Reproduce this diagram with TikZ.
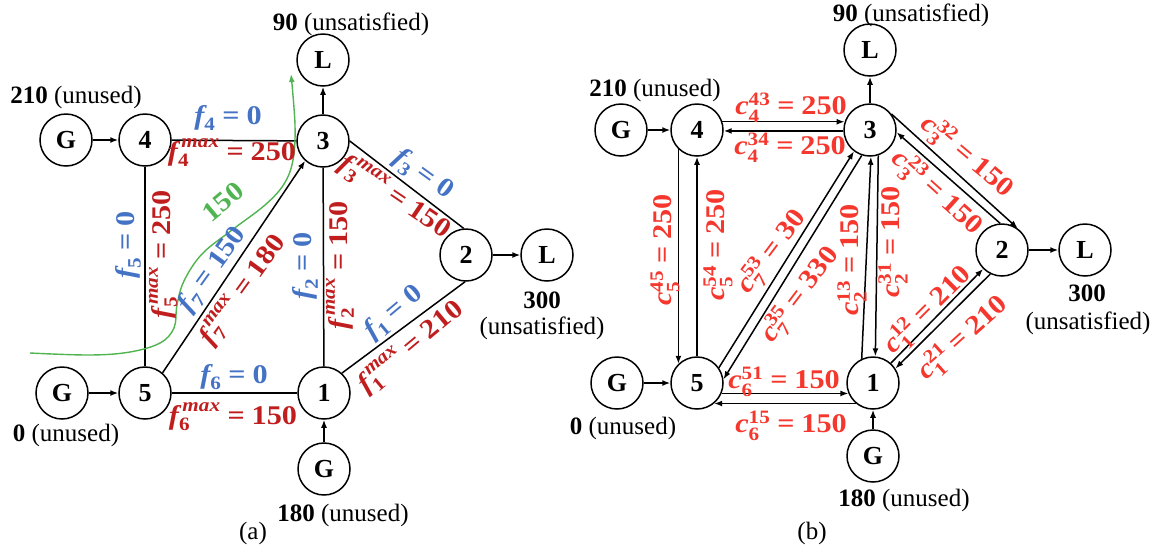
\documentclass[tikz,border=0pt]{standalone}
\usepackage{amsmath}
\usepackage{fontspec}
\setmainfont{Liberation Serif}
\newfontfamily\labfont{Liberation Serif}[FakeStretch=1.12]
\usetikzlibrary{arrows.meta,calc}
\definecolor{fblue}{RGB}{68,114,196}
\definecolor{fred}{RGB}{192,30,30}
\definecolor{cred}{RGB}{245,55,45}
\definecolor{fgreen}{RGB}{80,180,80}
% f_i^{max} = v
\newcommand\fm[2]{$\text{\labfont\bfseries\itshape f}_{\text{\labfont\bfseries #1}}^{\text{\labfont\bfseries\itshape\kern0.18em max}}\mathrel{\text{\labfont\bfseries =}}\text{\labfont\bfseries #2}$}
% f_i = v
\newcommand\fs[2]{$\text{\labfont\bfseries\itshape f}_{\text{\labfont\bfseries #1}}\mathrel{\text{\labfont\bfseries =}}\text{\labfont\bfseries #2}$}
% c_i^{jk} = v
\newcommand\cl[3]{$\text{\labfont\bfseries\itshape c}_{\text{\labfont\bfseries #1}}^{\text{\labfont\bfseries #2}}\mathrel{\text{\labfont\bfseries =}}\text{\labfont\bfseries #3}$}
\begin{document}
\begin{tikzpicture}[x=1pt,y=-1pt,
  bus/.style={circle,draw,line width=1.5pt,minimum size=52pt,inner sep=0pt,font=\fontsize{26}{30}\selectfont\bfseries},
  txt/.style={inner sep=0pt,font=\fontsize{25}{30}\selectfont},
  lab/.style={inner sep=0pt,font=\fontsize{27}{30}\selectfont},
  wire/.style={line width=1.5pt},
  arr/.style={line width=1.5pt,-{Latex[length=8pt,width=6pt]}},
]
\useasboundingbox (0,0) rectangle (1161,550);

% ---------------- panel (a) ----------------
\node[bus] (G4a) at (66,140) {G};
\node[bus] (n4a) at (145,140) {4};
\node[bus] (n3a) at (323,141) {3};
\node[bus] (L3a) at (323,60) {L};
\node[bus] (n2a) at (466,255) {2};
\node[bus] (L2a) at (547,255) {L};
\node[bus] (G5a) at (62,393) {G};
\node[bus] (n5a) at (145,393) {5};
\node[bus] (n1a) at (324,393) {1};
\node[bus] (G1a) at (324,469) {G};

\node[txt] (t210a) at (76,97) {\textbf{210} (unused)};
\node[txt] (t90a) at (351,24) {\textbf{90} (unsatisfied)};
\node[txt] (t300a) at (542,300) {\textbf{300}};
\node[txt] (tunsa) at (542,328) {(unsatisfied)};
\node[txt] (t0a) at (66,435) {\textbf{0} (unused)};
\node[txt] (t180a) at (343,515) {\textbf{180} (unused)};
\node[txt] (capa) at (253,533) {(a)};

\draw[arr] (G4a) -- (n4a);
\draw[arr] (G5a) -- (n5a);
\draw[arr] (G1a) -- (n1a);
\draw[arr] (n3a) -- (L3a);
\draw[arr] (n2a) -- (L2a);
\draw[wire] (n4a) -- (n3a);
\draw[wire] (n4a) -- (n5a);
\draw[wire] (n5a) -- (n1a);
\draw[wire] (n1a) -- (n3a);
\draw[wire] (n3a.0) -- (n2a.95);
\draw[wire] (n1a.48) -- (n2a.-92);
\draw[arr] (n5a.49) -- (n3a.-132);

\draw[fgreen,line width=1.4pt,-{Latex[length=8pt,width=6pt]}] plot[smooth,tension=0.6] coordinates {(30,353) (90,355) (130,352) (160,343) (174,328) (177,305) (184,281) (202,254) (232,230) (265,205) (284,184) (293,160) (295,125) (291,74)};
\node[lab,fgreen,rotate=40] (g150) at (223,202) {\labfont\bfseries 150};

\node[lab,fblue] (f4) at (228,118) {\fs{4}{0}};
\node[lab,fred] (f4m) at (232,153) {\fm{4}{250}};
\node[lab,fblue,rotate=90] (f5) at (128,245) {\fs{5}{0}};
\node[lab,fred,rotate=90] (f5m) at (163,254) {\fm{5}{250}};
\node[lab,fblue,rotate=54] (f7) at (213,270) {\fs{7}{150}};
\node[lab,fred,rotate=54] (f7m) at (243,290) {\fm{7}{180}};
\node[lab,fblue,rotate=90] (f2) at (305,266) {\fs{2}{0}};
\node[lab,fred,rotate=90] (f2m) at (340,265) {\fm{2}{150}};
\node[lab,fblue,rotate=-36] (f3) at (423,175) {\fs{3}{0}};
\node[lab,fred,rotate=-34] (f3m) at (395,197) {\fm{3}{150}};
\node[lab,fblue,rotate=40] (f1) at (394,313) {\fs{1}{0}};
\node[lab,fred,rotate=40] (f1m) at (411,347) {\fm{1}{210}};
\node[lab,fblue] (f6) at (234,377) {\fs{6}{0}};
\node[lab,fred] (f6m) at (233,417) {\fm{6}{150}};

% ---------------- panel (b) ----------------
\node[bus] (G4b) at (621,130) {G};
\node[bus] (n4b) at (697,130) {4};
\node[bus] (n3b) at (870,130) {3};
\node[bus] (L3b) at (870,50) {L};
\node[bus] (n2b) at (1002,250) {2};
\node[bus] (L2b) at (1085,250) {L};
\node[bus] (G5b) at (617,383) {G};
\node[bus] (n5b) at (697,383) {5};
\node[bus] (n1b) at (873,383) {1};
\node[bus] (G1b) at (873,456) {G};

\node[txt] (t210b) at (655,90) {\textbf{210} (unused)};
\node[txt] (t90b) at (911,15) {\textbf{90} (unsatisfied)};
\node[txt] (t300b) at (1087,293) {\textbf{300}};
\node[txt] (tunsb) at (1088,323) {(unsatisfied)};
\node[txt] (t0b) at (623,428) {\textbf{0} (unused)};
\node[txt] (t180b) at (904,500) {\textbf{180} (unused)};
\node[txt] (capb) at (812,533) {(b)};

\draw[arr] (G4b) -- (n4b);
\draw[arr] (G5b) -- (n5b);
\draw[arr] (G1b) -- (n1b);
\draw[arr] (n3b) -- (L3b);
\draw[arr] (n2b) -- (L2b);

\draw[arr] (n4b.18) -- (n3b.162);
\draw[arr] (n3b.-178) -- (n4b.-2);
\draw[arr] (n4b.-134) -- (n5b.134);
\draw[arr] (n5b.90) -- (n4b.-90);
\draw[arr] (n5b.35) -- (n3b.-127);
\draw[arr] (n3b.-108) -- (n5b.8);
\draw[arr] (n1b.115) -- (n3b.-88);
\draw[arr] (n3b.-72) -- (n1b.85);
\draw[arr] (n3b.37) -- (n2b.54);
\draw[arr] (n2b.94) -- (n3b.-5);
\draw[arr] (n1b.48) -- (n2b.-135);
\draw[arr] (n2b.-116) -- (n1b.33);
\draw[arr] (n5b.-23) -- (n1b.-157);
\draw[arr] (n1b.-130) -- (n5b.-50);

\node[lab,cred] (c43) at (791,108) {\cl{4}{43}{250}};
\node[lab,cred] (c34) at (790,148) {\cl{4}{34}{250}};
\node[lab,cred,rotate=90] (c45) at (665,250) {\cl{5}{45}{250}};
\node[lab,cred,rotate=90] (c54) at (718,245) {\cl{5}{54}{250}};
\node[lab,cred,rotate=53] (c53) at (772,252) {\cl{7}{53}{30}};
\node[lab,cred,rotate=53] (c35) at (800,295) {\cl{7}{35}{330}};
\node[lab,cred,rotate=90] (c13) at (852,260) {\cl{2}{13}{150}};
\node[lab,cred,rotate=90] (c31) at (893,242) {\cl{2}{31}{150}};
\node[lab,cred,rotate=-40] (c32) at (967,157) {\cl{3}{32}{150}};
\node[lab,cred,rotate=-42] (c23) at (937,193) {\cl{3}{23}{150}};
\node[lab,cred,rotate=45] (c12) at (928,310) {\cl{1}{12}{210}};
\node[lab,cred,rotate=42] (c21) at (963,338) {\cl{1}{21}{210}};
\node[lab,cred] (c51) at (784,382) {\cl{6}{51}{150}};
\node[lab,cred] (c15) at (791,426) {\cl{6}{15}{150}};
\end{tikzpicture}
\end{document}
